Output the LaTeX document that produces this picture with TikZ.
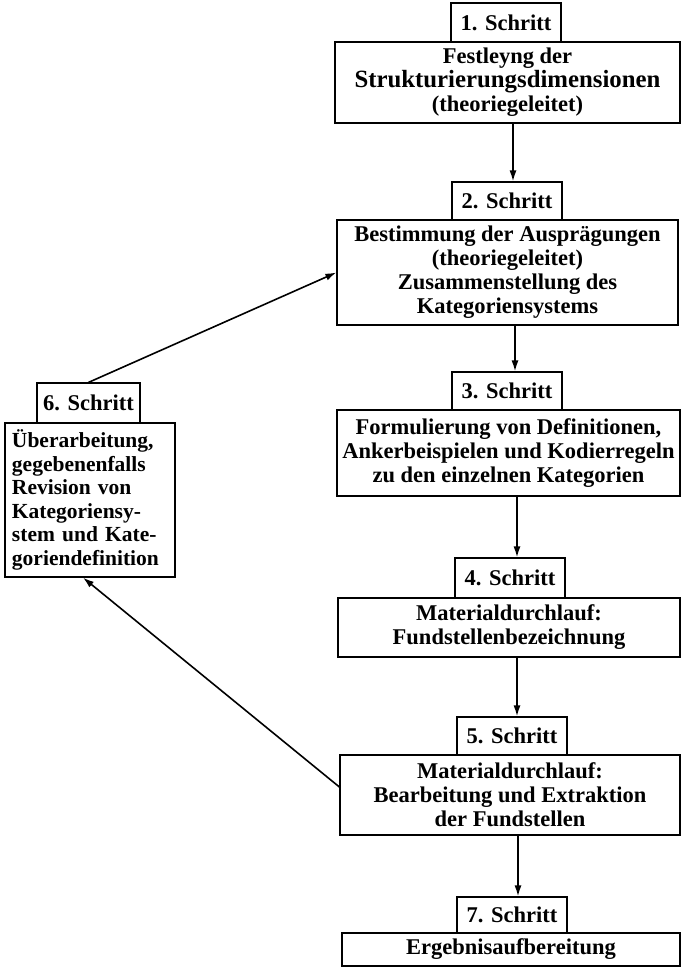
\documentclass[tikz,border=0pt]{standalone}
\usepackage{fontspec}
\setmainfont{Liberation Serif}
\usetikzlibrary{arrows.meta}
\begin{document}
\begin{tikzpicture}
    [
    x=1pt,y=-1pt,
    every node/.style={font=\bfseries\fontsize{22.5}{24}\selectfont},
    tab/.style={draw,line width=1.2pt,rectangle,inner sep=0pt,minimum width=110pt,minimum height=39pt},
    box/.style={draw,line width=1.2pt,rectangle,inner sep=0pt,align=center},
    flow/.style={-{Latex[length=11pt,width=7pt]},line width=1.6pt}
    ]
    \useasboundingbox (0,0) rectangle (685,967);
    \node (b1) at (507.5,82.5) [box,minimum width=345pt,minimum height=81pt] {Festleyng der\\{\fontsize{24.8}{24}\selectfont Strukturierungsdimensionen}\\(theoriegeleitet)};
    \node (t1) at (506,22.5) [tab] {1. Schritt};
    \node (b2) at (507.5,272.5) [box,minimum width=341pt,minimum height=105pt] {Bestimmung der Ausprägungen\\(theoriegeleitet)\\Zusammenstellung des\\Kategoriensystems};
    \node (t2) at (507,201) [tab,minimum height=38pt] {2. Schritt};
    \node (b3) at (508.5,453) [box,minimum width=343pt,minimum height=86pt] {Formulierung von Definitionen,\\Ankerbeispielen und Kodierregeln\\zu den einzelnen Kategorien};
    \node (t3) at (507,391) [tab,minimum height=38pt] {3. Schritt};
    \node (b4) at (509,627.5) [box,minimum width=342pt,minimum height=59pt] {Materialdurchlauf:\\Fundstellenbezeichnung};
    \node (t4) at (510,578) [tab,minimum height=40pt] {4. Schritt};
    \node (b5) at (510,795) [box,minimum width=340pt,minimum height=80pt] {Materialdurchlauf:\\Bearbeitung und Extraktion\\der Fundstellen};
    \node (t5) at (512,736) [tab,minimum height=38pt] {5. Schritt};
    \node (b7) at (511,949.5) [box,minimum width=338pt,minimum height=33pt] {Ergebnisaufbereitung};
    \node (t7) at (512,915) [tab,minimum height=36pt] {7. Schritt};
    \node (b6) at (90,500) [box,minimum width=170pt,minimum height=154pt,text width=156pt,align=left,font=\bfseries\fontsize{21.5}{23.5}\selectfont] {Überarbeitung,\\gegebenenfalls\\Revision von\\Kategoriensy-\\stem und Kate-\\goriendefinition};
    \node (t6) at (88.5,403) [tab,minimum width=103pt,minimum height=40pt] {6. Schritt};
    \draw [flow] ([xshift=6pt]t2.north |- b1.south) to ([xshift=6pt]t2.north);
    \draw [flow] ([xshift=8pt]t3.north |- b2.south) to ([xshift=8pt]t3.north);
    \draw [flow] ([xshift=7pt]t4.north |- b3.south) to ([xshift=7pt]t4.north);
    \draw [flow] ([xshift=5pt]t5.north |- b4.south) to ([xshift=5pt]t5.north);
    \draw [flow] ([xshift=6pt]t7.north |- b5.south) to ([xshift=6pt]t7.north);
    \draw [flow] ([yshift=8pt]b5.west) to ([xshift=-7pt]b6.south);
    \draw [flow] (t6.north) to (b2.west);
  \end{tikzpicture}
\end{document}
